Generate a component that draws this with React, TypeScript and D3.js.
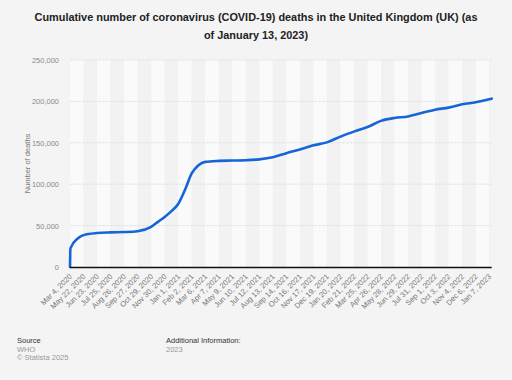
import React from "react";
import * as d3 from "d3";

const title1 = "Cumulative number of coronavirus (COVID-19) deaths in the United Kingdom (UK) (as";
const title2 = "of January 13, 2023)";

const pointDates = [
  "2020-03-04", "2020-04-21", "2020-05-09", "2020-05-22", "2020-06-23", "2020-07-25",
  "2020-08-26", "2020-09-27", "2020-10-29", "2020-11-14", "2020-11-30", "2020-12-16",
  "2021-01-01", "2021-01-17", "2021-02-02", "2021-02-18", "2021-03-06", "2021-04-07",
  "2021-05-09", "2021-06-10", "2021-07-12", "2021-08-13", "2021-09-14", "2021-10-16",
  "2021-11-17", "2021-12-19", "2022-01-20", "2022-02-21", "2022-03-25", "2022-04-26",
  "2022-05-28", "2022-06-29", "2022-07-31", "2022-09-01", "2022-10-03", "2022-11-04",
  "2022-12-06", "2023-01-07", "2023-01-13",
];
const deaths = [
  0, 22500, 34700, 38500, 41000, 41800,
  42200, 43200, 48500, 54500, 60500, 67500,
  76000, 93000, 113000, 123000, 127000, 128200,
  128600, 129000, 130000, 132500, 137500, 142000,
  147000, 150500, 157500, 163500, 169000, 176500,
  180000, 181800, 186000, 190000, 192500, 196500,
  199000, 202500, 203300,
];

const xTickLabels = [
  "Mar 4, 2020", "May 22, 2020", "Jun 23, 2020", "Jul 25, 2020", "Aug 26, 2020",
  "Sep 27, 2020", "Oct 29, 2020", "Nov 30, 2020", "Jan 1, 2021", "Feb 2, 2021",
  "Mar 6, 2021", "Apr 7, 2021", "May 9, 2021", "Jun 10, 2021", "Jul 12, 2021",
  "Aug 13, 2021", "Sep 14, 2021", "Oct 16, 2021", "Nov 17, 2021", "Dec 19, 2021",
  "Jan 20, 2022", "Feb 21, 2022", "Mar 25, 2022", "Apr 26, 2022", "May 28, 2022",
  "Jun 29, 2022", "Jul 31, 2022", "Sep 1, 2022", "Oct 3, 2022", "Nov 4, 2022",
  "Dec 6, 2022", "Jan 7, 2023",
];
const yTicks = [0, 50000, 100000, 150000, 200000, 250000];

const firstRecord = "2020-03-04";
const dailyStart = "2020-04-20";
const lastRecord = "2023-01-13";

const parseISO = d3.timeParse("%Y-%m-%d");
const parseLabel = d3.timeParse("%b %-d, %Y");

function recordIndex(d: Date): number {
  const first = parseISO(firstRecord)!;
  if (+d <= +first) return 0;
  return d3.timeDay.count(parseISO(dailyStart)!, d);
}

export default function App() {
  const W = 512, H = 380;
  const left = 70, right = 491.7, top = 60, bottom = 267;
  const lastIdx = recordIndex(parseISO(lastRecord)!);
  const x = d3.scaleLinear().domain([0, lastIdx]).range([left, right]);
  const y = d3.scaleLinear().domain([0, 250000]).range([bottom, top]);
  const fmt = d3.format(",");
  const font = "'Liberation Sans', Arial, sans-serif";

  const pts = pointDates.map((d, i) => ({ i: recordIndex(parseISO(d)!), v: deaths[i] }));
  const line = d3.line<{ i: number; v: number }>()
    .x((p) => x(p.i))
    .y((p) => y(p.v))
    .curve(d3.curveMonotoneX);

  const tickIdx = xTickLabels.map((l) => recordIndex(parseLabel(l)!));
  const bandW = tickIdx.length > 1 ? tickIdx[1] - tickIdx[0] : 32;

  return (
    <svg width={W} height={H} style={{ position: "absolute", left: 0, top: 0, background: "#f4f4f4" }}>
      <rect x={0} y={0} width={W} height={H} fill="#f4f4f4" />
      <text x={256} y={21} textAnchor="middle" fontFamily={font} fontWeight="bold" fontSize={10.9} fill="#222">{title1}</text>
      <text x={256} y={39} textAnchor="middle" fontFamily={font} fontWeight="bold" fontSize={10.9} fill="#222">{title2}</text>

      {tickIdx.map((ti, k) => {
        const x0 = x(ti);
        const x1 = Math.min(x(ti + bandW), right);
        return (
          <rect key={"b" + k} x={x0} y={top} width={Math.max(0, x1 - x0)} height={bottom - top}
            fill={k % 2 === 0 ? "#fafafa" : "#f2f2f2"} />
        );
      })}

      {yTicks.map((t) => (
        <g key={"y" + t}>
          {t > 0 && (
            <line x1={left} x2={right} y1={y(t)} y2={y(t)} stroke="#e3e3e3" strokeWidth={1} strokeDasharray="3,1" />
          )}
          <text x={59} y={y(t) + 3} textAnchor="end" fontFamily={font} fontSize={7.5} fill="#8a8a8a">{fmt(t)}</text>
        </g>
      ))}

      <text transform={`translate(30,${(top + bottom) / 2}) rotate(-90)`} textAnchor="middle"
        fontFamily={font} fontSize={7.5} fill="#777">Number of deaths</text>

      <path d={line(pts) || ""} fill="none" stroke="#1565d8" strokeWidth={2.6} strokeLinejoin="round" strokeLinecap="round" />

      <line x1={left} x2={right} y1={bottom + 0.5} y2={bottom + 0.5} stroke="#111" strokeWidth={1.3} />

      {xTickLabels.map((l, k) => (
        <text key={"xl" + k} transform={`translate(${x(tickIdx[k]) + 2.5},${bottom + 10}) rotate(-45)`}
          textAnchor="end" fontFamily={font} fontSize={7.6} fill="#777">{l}</text>
      ))}

      <text x={17} y={343} fontFamily={font} fontSize={7.5} fill="#333">Source</text>
      <text x={17} y={351.5} fontFamily={font} fontSize={7.5} fill="#999">WHO</text>
      <text x={17} y={359.5} fontFamily={font} fontSize={7.5} fill="#999">© Statista 2025</text>
      <text x={166} y={343} fontFamily={font} fontSize={7.5} fill="#333">Additional Information:</text>
      <text x={166} y={351.5} fontFamily={font} fontSize={7.5} fill="#999">2023</text>
    </svg>
  );
}
